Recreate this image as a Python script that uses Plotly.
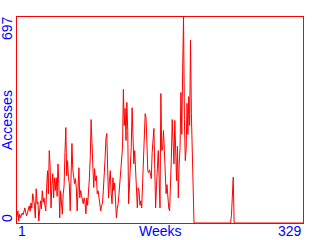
import plotly.graph_objects as go

# Weekly access counts (weeks 1..203), the rest zero except a late spike
active_weeks = [
    20, 41, 7, 30, 17, 25, 34, 28, 38, 51,
    35, 24, 34, 45, 58, 40, 68, 50, 99, 82,
    60, 17, 116, 65, 72, 7, 55, 75, 48, 109,
    70, 85, 60, 41, 119, 177, 99, 245, 194, 51,
    126, 167, 85, 153, 110, 153, 90, 200, 132, 17,
    109, 45, 30, 99, 126, 238, 323, 160, 211, 153,
    133, 41, 211, 269, 180, 143, 133, 150, 120, 41,
    99, 187, 85, 110, 92, 75, 65, 85, 70, 31,
    85, 60, 99, 150, 221, 350, 269, 143, 120, 184,
    143, 160, 99, 109, 80, 51, 41, 60, 65, 109,
    150, 218, 286, 303, 180, 85, 143, 177, 100, 65,
    153, 110, 136, 85, 17, 50, 65, 100, 133, 167,
    200, 255, 452, 330, 388, 279, 408, 313, 65, 130,
    211, 255, 390, 255, 200, 245, 194, 143, 51, 119,
    109, 60, 75, 51, 133, 221, 303, 370, 357, 279,
    177, 170, 180, 167, 150, 238, 306, 320, 184, 51,
    126, 177, 245, 150, 51, 438, 245, 250, 313, 245,
    167, 99, 130, 75, 51, 41, 120, 218, 350, 255,
    200, 347, 200, 143, 260, 85, 200, 255, 442, 300,
    520, 697, 350, 211, 250, 405, 300, 428, 330, 619,
    370, 255, 160,
]
late_spike = {247: 30, 248: 110, 249: 155}

n_weeks = 329
weeks = list(range(1, n_weeks + 1))
accesses = []
for w in weeks:
    if w <= len(active_weeks):
        accesses.append(active_weeks[w - 1])
    else:
        accesses.append(late_spike.get(w, 0))

y_max = 697
x_label_left = "1"
x_label_right = "329"
x_title = "Weeks"
y_label_bottom = "0"
y_label_top = "697"
y_title = "Accesses"

RED = "#ff0000"
BLUE = "#0000ff"
FONT = dict(family="Liberation Sans, Arial, sans-serif", size=14, color=BLUE)

fig = go.Figure()
fig.add_trace(go.Scatter(
    x=weeks, y=accesses, mode="lines",
    line=dict(color=RED, width=1), hoverinfo="skip", showlegend=False,
))

axis_common = dict(showgrid=False, zeroline=False, showticklabels=False,
                   ticks="", showline=True, linecolor=RED, linewidth=1, mirror=True)
fig.update_xaxes(range=[1, n_weeks], **axis_common)
fig.update_yaxes(range=[0, y_max], **axis_common)

common = dict(xref="paper", yref="paper", showarrow=False, font=FONT, borderpad=0)
anns = [
    dict(text=x_label_left, x=0, y=0, xanchor="left", yanchor="top", yshift=1, **common),
    dict(text=x_title, x=0.5, y=0, xanchor="center", yanchor="top", yshift=1, **common),
    dict(text=x_label_right, x=1, y=0, xanchor="right", yanchor="top", yshift=1, **common),
    dict(text=y_label_bottom, x=0, y=0, xanchor="right", yanchor="bottom",
         textangle=-90, xshift=-1, **common),
    dict(text=y_title, x=0, y=0.5, xanchor="right", yanchor="middle",
         textangle=-90, xshift=-1, **common),
    dict(text=y_label_top, x=0, y=1, xanchor="right", yanchor="top",
         textangle=-90, xshift=-1, yshift=2, **common),
]
fig.update_layout(
    width=320, height=240,
    margin=dict(l=17, r=17, t=17, b=17),
    paper_bgcolor="white", plot_bgcolor="white",
    annotations=anns,
)
fig.write_html("out.html", config={"displayModeBar": False})
